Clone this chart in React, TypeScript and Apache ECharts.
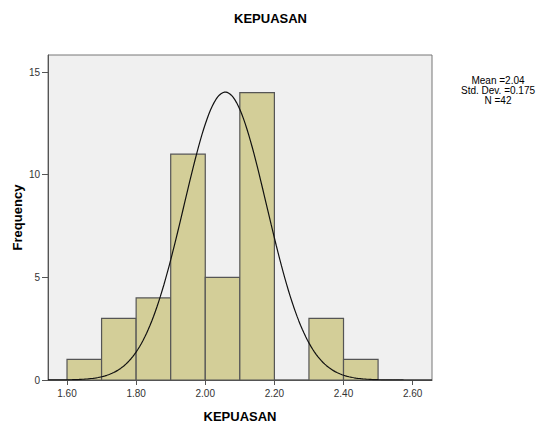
import React, { useEffect, useRef } from "react";
import * as echarts from "echarts";

const binStarts = [1.6, 1.7, 1.8, 1.9, 2.0, 2.1, 2.2, 2.3, 2.4];
const binEnds = [1.7, 1.8, 1.9, 2.0, 2.1, 2.2, 2.3, 2.4, 2.5];
const frequencies = [1, 3, 4, 11, 5, 14, 0, 3, 1];
const xTicks = [1.6, 1.8, 2.0, 2.2, 2.4, 2.6];
const yTicks = [0, 5, 10, 15];
const statLines = ["Mean =2.04", "Std. Dev. =0.175", "N =42"];
// parameters of the fitted normal curve, as drawn in the picture
const curveMean = 2.058;
const curveSd = 0.1195;
const curveN = 42;
const binWidth = 0.1;
const xMin = 1.545;
const xMax = 2.656;

export default function App() {
  const ref = useRef<HTMLDivElement>(null);
  useEffect(() => {
    if (!ref.current) return;
    const chart = echarts.init(ref.current, null, { renderer: "svg" });
    const bins = binStarts.map((s, i) => [s, binEnds[i], frequencies[i]]);
    const curve: number[][] = [];
    const steps = 222;
    for (let i = 0; i <= steps; i++) {
      const x = xMin + ((xMax - xMin) * i) / steps;
      const z = (x - curveMean) / curveSd;
      const y = (curveN * binWidth) / (curveSd * Math.sqrt(2 * Math.PI)) * Math.exp(-0.5 * z * z);
      curve.push([x, y]);
    }
    const font = "Arial, 'Liberation Sans', sans-serif";
    chart.setOption({
      animation: false,
      title: {
        text: "KEPUASAN",
        left: "center",
        top: 7,
        textStyle: { fontFamily: font, fontSize: 13, fontWeight: "bold", color: "#000" },
      },
      grid: {
        left: 48,
        top: 55,
        right: 109,
        bottom: 43,
        containLabel: false,
        outerBoundsMode: "none",
        show: true,
        backgroundColor: "#f0f0f0",
        borderColor: "#777",
        borderWidth: 1,
      },
      xAxis: {
        type: "value",
        min: xMin,
        max: xMax,
        name: "KEPUASAN",
        nameLocation: "middle",
        nameGap: 30,
        nameMoveOverlap: false,
        nameTextStyle: { fontFamily: font, fontSize: 13, fontWeight: "bold", color: "#000" },
        splitLine: { show: false },
        axisLine: { show: true, lineStyle: { color: "#555", width: 1 } },
        axisTick: { show: true, length: 5, customValues: xTicks, lineStyle: { color: "#555" } },
        axisLabel: {
          customValues: xTicks,
          margin: 8,
          fontFamily: font,
          fontSize: 10,
          color: "#333",
          formatter: (v: number) => v.toFixed(2),
        },
      },
      yAxis: {
        type: "value",
        min: 0,
        max: 15.83,
        name: "Frequency",
        nameLocation: "middle",
        nameGap: 24,
        nameMoveOverlap: false,
        nameTextStyle: { fontFamily: font, fontSize: 13, fontWeight: "bold", color: "#000" },
        splitLine: { show: false },
        axisLine: { show: true, lineStyle: { color: "#555", width: 1 } },
        axisTick: { show: true, length: 6, customValues: yTicks, lineStyle: { color: "#555" } },
        axisLabel: {
          customValues: yTicks,
          margin: 8,
          fontFamily: font,
          fontSize: 10,
          color: "#333",
        },
      },
      graphic: [
        {
          type: "text",
          left: 461,
          top: 75,
          style: {
            text: statLines.join("\n"),
            x: 40,
            textAlign: "center",
            fontFamily: font,
            fontSize: 10,
            lineHeight: 10,
            fill: "#000",
          },
        },
      ],
      series: [
        {
          type: "custom",
          data: bins,
          encode: { x: [0, 1], y: 2 },
          renderItem: (params: any, api: any) => {
            const p0 = api.coord([api.value(0), 0]);
            const p1 = api.coord([api.value(1), api.value(2)]);
            return {
              type: "rect",
              shape: { x: p0[0], y: p1[1], width: p1[0] - p0[0], height: p0[1] - p1[1] },
              style: { fill: "#d3ce98", stroke: "#555", lineWidth: 1.2 },
            };
          },
          z: 2,
        },
        {
          type: "line",
          data: curve,
          symbol: "none",
          smooth: false,
          lineStyle: { color: "#111", width: 1.2 },
          z: 3,
        },
      ],
    });
    return () => chart.dispose();
  }, []);
  return <div ref={ref} style={{ position: "absolute", left: 0, top: 0, width: 541, height: 423 }} />;
}
